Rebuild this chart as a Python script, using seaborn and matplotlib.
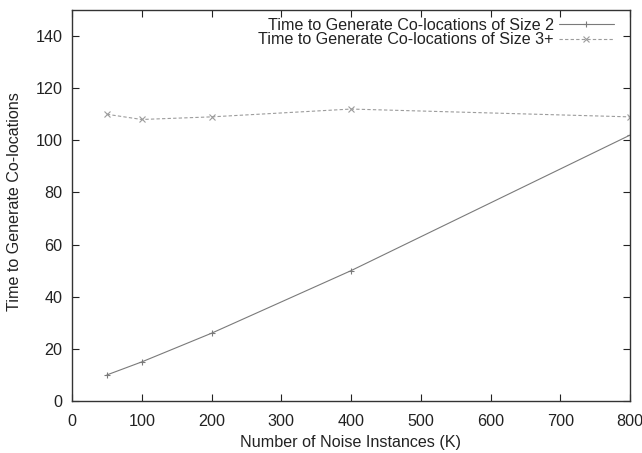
import matplotlib
matplotlib.use("Agg")
import matplotlib.pyplot as plt
import seaborn as sns
import pandas as pd

noise_k = [50, 100, 200, 400, 800]
time_size2 = [10, 15, 26, 50, 102]
time_size3 = [110, 108, 109, 112, 109]
label_size2 = "Time to Generate Co-locations of Size 2"
label_size3 = "Time to Generate Co-locations of Size 3+"

sns.set_theme(style="ticks")
plt.rcParams["font.family"] = ["Liberation Sans", "DejaVu Sans"]
fs = 11.6

df = pd.DataFrame({
    "noise": noise_k * 2,
    "time": time_size2 + time_size3,
    "series": [label_size2] * len(noise_k) + [label_size3] * len(noise_k),
})

fig = plt.figure(figsize=(6.42, 4.53), dpi=100)
ax = fig.add_axes([72 / 642, 1 - 401 / 453, 558 / 642, 391 / 453])

c2, c3 = "#7a7a7a", "#9c9c9c"
sns.lineplot(data=df[df.series == label_size2], x="noise", y="time", ax=ax,
             color=c2, lw=0.8, marker="+", markersize=5,
             markeredgewidth=0.8, markeredgecolor=c2, label=label_size2)
sns.lineplot(data=df[df.series == label_size3], x="noise", y="time", ax=ax,
             color=c3, lw=0.8, linestyle=(0, (3, 2)), marker="x",
             markersize=4.5, markeredgewidth=0.8, markeredgecolor=c3,
             label=label_size3)

ax.set_xlim(0, 800)
ax.set_ylim(0, 150)
ax.set_xticks(range(0, 801, 100))
ax.set_yticks(range(0, 141, 20))
ax.set_xlabel("Number of Noise Instances (K)", fontsize=fs, color="#222222",
              va="top")
ax.set_ylabel("Time to Generate Co-locations", fontsize=fs, color="#222222")
ax.xaxis.set_label_coords(0.5, -0.086)
ax.yaxis.set_label_coords(-0.09, 0.51)
ax.tick_params(direction="in", length=5, width=0.8, top=True, right=True,
               labelsize=fs, colors="#222222")
ax.tick_params(axis="x", pad=9)
ax.tick_params(axis="y", pad=7)
for s in ax.spines.values():
    s.set_linewidth(1.0)
    s.set_color("#333333")

leg = ax.legend(loc="upper right", frameon=False, markerfirst=False,
                fontsize=fs, handlelength=3.4, handletextpad=0.3,
                borderaxespad=0.1, labelspacing=-0.05,
                bbox_to_anchor=(0.985, 1.0))
for t in leg.get_texts():
    t.set_ha("right")
    t.set_color("#222222")

fig.savefig("out.png", dpi=100)
